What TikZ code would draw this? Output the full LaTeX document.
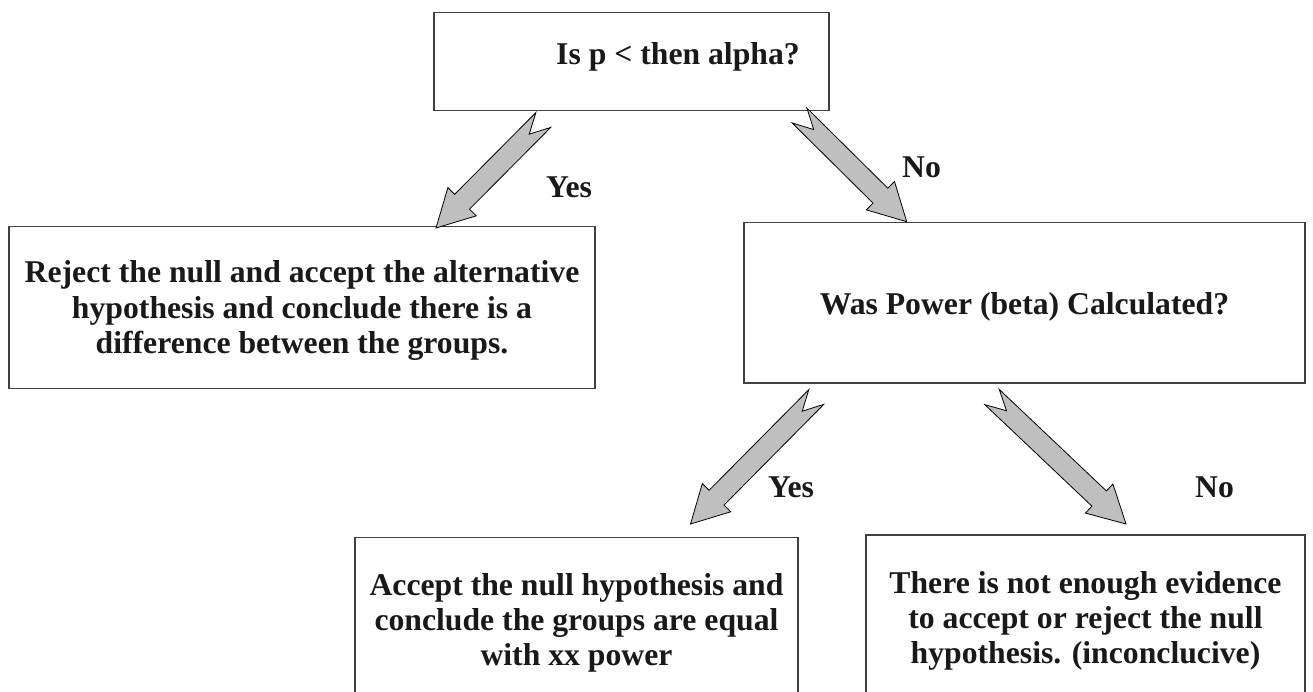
\documentclass[tikz,border=0pt]{standalone}
\usepackage{fontspec}
\setmainfont{Liberation Serif}
\usetikzlibrary{calc}
\newcommand{\boxfont}{\fontsize{31.7}{35.3}\selectfont\bfseries}
\newcommand{\blockarrow}[2]{%
  \filldraw[blockarrow]
    ($(#1)!10.5pt!90:(#2)$) -- ($(#1)!20pt!(#2)$) -- ($(#1)!10.5pt!-90:(#2)$)
    -- ($(#2)!37pt!(#1)!10.5pt!90:(#1)$) -- ($(#2)!37pt!(#1)!20pt!90:(#1)$)
    -- (#2)
    -- ($(#2)!37pt!(#1)!20pt!-90:(#1)$) -- ($(#2)!37pt!(#1)!10.5pt!-90:(#1)$)
    -- cycle;}
\tikzset{
  box/.style={draw=black!75, line width=1.3pt, rectangle, inner sep=0pt},
  txt/.style={font=\boxfont, align=center, inner sep=0pt, anchor=base, text=black!90},
  lbl/.style={font=\boxfont, inner sep=0pt, anchor=base west, text=black!90},
  blockarrow/.style={fill=black!25, draw=black, line width=0.8pt, line join=miter}
}
\begin{document}
\begin{tikzpicture}[x=1pt, y=-1pt]
\useasboundingbox (0,0) rectangle (1313,692);
\clip (0,0) rectangle (1313,692);
\fill[white] (0,0) rectangle (1313,692);

% boxes
\node[box, minimum width=395pt, minimum height=98.4pt] (q1) at (631.5,61.5) {};
\node[box, minimum width=586pt, minimum height=161.8pt] (rej) at (302,307.6) {};
\node[box, minimum width=561pt, minimum height=160.5pt] (q2) at (1024.5,302.75) {};
\node[box, minimum width=443pt, minimum height=162.5pt] (acc) at (576.5,618.75) {};
\node[box, minimum width=439pt, minimum height=165pt] (inc) at (1085.5,617.5) {};

% texts (base anchor = baseline of last line)
\node[lbl] (tq1) at (556,65) {Is p < then alpha?};
\node[txt] (trej) at (302,353.3) {Reject the null and accept the alternative\\hypothesis and conclude there is a\\difference between the groups.};
\node[txt] (tq2) at (1024.5,315) {Was Power (beta) Calculated?};
\node[txt] (tacc) at (576.5,665.6) {Accept the null hypothesis and\\conclude the groups are equal\\with xx power};
\node[txt] (tinc) at (1085.5,663.8) {There is not enough evidence\\to accept or reject the null\\hypothesis. (inconclucive)};

% arrow end points
\coordinate (a1s) at (543.3,120);
\coordinate (a1e) at (436,228);
\coordinate (a2s) at (799.5,115.5);
\coordinate (a2e) at (906.7,221.7);
\coordinate (a3s) at (816.3,397);
\coordinate (a3e) at (690.5,524);
\coordinate (a4s) at (992,397);
\coordinate (a4e) at (1126,524);

\blockarrow{a1s}{a1e}
\blockarrow{a2s}{a2e}
\blockarrow{a3s}{a3e}
\blockarrow{a4s}{a4e}

% labels
\node[lbl] (y1) at (546,198) {Yes};
\node[lbl] (n1) at (902,178) {No};
\node[lbl] (y2) at (768,497) {Yes};
\node[lbl] (n2) at (1195,497) {No};
\end{tikzpicture}
\end{document}
